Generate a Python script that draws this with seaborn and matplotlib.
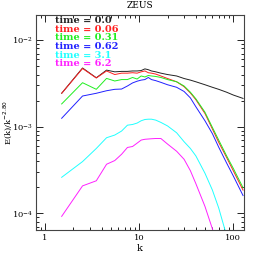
import matplotlib
matplotlib.use("Agg")
import matplotlib.pyplot as plt
from matplotlib.ticker import LogLocator, FuncFormatter, NullFormatter
import pandas as pd
import seaborn as sns

K_FULL = [1.5, 2.5, 3.5, 4.5, 5.5, 6.5, 7.5, 8.5, 9.5, 10.5, 11.5, 12.5, 13.5,
          15, 17, 20, 25, 30, 35, 40, 50, 60, 70, 85, 100, 127]
K_CYAN = K_FULL[:24]
K_MAGENTA = K_FULL[:23]

E_T000 = [2.43e-3, 4.76e-3, 3.67e-3, 4.5e-3, 4.3e-3, 4.35e-3, 4.35e-3, 4.4e-3, 4.4e-3,
          4.45e-3, 4.65e-3, 4.55e-3, 4.4e-3, 4.3e-3, 4.15e-3, 4.0e-3, 3.85e-3, 3.6e-3,
          3.45e-3, 3.3e-3, 3.05e-3, 2.85e-3, 2.7e-3, 2.5e-3, 2.32e-3, 2.12e-3]
E_T006 = [2.43e-3, 4.7e-3, 3.65e-3, 4.4e-3, 4.0e-3, 4.15e-3, 4.15e-3, 4.2e-3, 4.15e-3,
          4.3e-3, 4.4e-3, 4.2e-3, 4.15e-3, 4.05e-3, 3.85e-3, 3.6e-3, 3.3e-3, 2.9e-3,
          2.45e-3, 2.05e-3, 1.42e-3, 9.4e-4, 6.6e-4, 4.4e-4, 3.1e-4, 1.85e-4]
E_T031 = [1.83e-3, 3.22e-3, 2.7e-3, 3.61e-3, 3.37e-3, 3.5e-3, 3.5e-3, 3.7e-3, 3.55e-3,
          3.85e-3, 3.75e-3, 3.9e-3, 3.85e-3, 3.8e-3, 3.7e-3, 3.5e-3, 3.3e-3, 2.95e-3,
          2.5e-3, 2.1e-3, 1.47e-3, 9.8e-4, 7.0e-4, 4.6e-4, 3.3e-4, 1.97e-4]
E_T062 = [1.25e-3, 2.26e-3, 2.43e-3, 2.6e-3, 2.7e-3, 2.72e-3, 2.95e-3, 3.2e-3, 3.35e-3,
          3.45e-3, 3.5e-3, 3.7e-3, 3.5e-3, 3.4e-3, 3.25e-3, 3.05e-3, 2.85e-3, 2.55e-3,
          2.15e-3, 1.7e-3, 1.17e-3, 8.3e-4, 5.8e-4, 3.8e-4, 2.7e-4, 1.6e-4]
E_T310 = [2.6e-4, 3.95e-4, 5.6e-4, 7.45e-4, 8.0e-4, 8.9e-4, 1.04e-3, 1.06e-3, 1.1e-3,
          1.17e-3, 1.21e-3, 1.22e-3, 1.22e-3, 1.19e-3, 1.12e-3, 1.02e-3, 8.5e-4, 6.7e-4,
          5.6e-4, 4.6e-4, 2.9e-4, 1.85e-4, 1.15e-4, 5.5e-5]
E_T620 = [9.2e-5, 2.07e-4, 2.37e-4, 3.68e-4, 4.06e-4, 4.8e-4, 5.75e-4, 5.9e-4, 6.45e-4,
          7.0e-4, 7.15e-4, 7.2e-4, 7.25e-4, 7.3e-4, 7.3e-4, 6.3e-4, 5.2e-4, 4.2e-4,
          3.1e-4, 2.2e-4, 1.2e-4, 6.6e-5, 3.5e-5]

TIMES = ["0.0", "0.06", "0.31", "0.62", "3.1", "6.2"]
COLORS = ["#222222", "#ff2020", "#20ee20", "#2020ff", "#20ffff", "#ff20ff"]

series = [(K_FULL, E_T000), (K_FULL, E_T006), (K_FULL, E_T031),
          (K_FULL, E_T062), (K_CYAN, E_T310), (K_MAGENTA, E_T620)]
frames = []
for t, (ks, es) in zip(TIMES, series):
    frames.append(pd.DataFrame({"k": ks, "E": es, "time": f"time = {t}"}))
df = pd.concat(frames, ignore_index=True)

plt.rcParams["font.family"] = ["DejaVu Serif"]
fig = plt.figure(figsize=(2.58, 2.58), dpi=100)
ax = fig.add_axes([0.1395, 0.1085, 0.8062, 0.8334])

palette = {f"time = {t}": c for t, c in zip(TIMES, COLORS)}
sns.lineplot(data=df, x="k", y="E", hue="time", palette=palette, ax=ax,
             linewidth=0.7, sort=True, legend=False)

ax.set_xscale("log")
ax.set_yscale("log")
ax.set_xlim(0.8, 130)
ax.set_ylim(6.4e-5, 1.95e-2)

ax.xaxis.set_major_formatter(FuncFormatter(lambda v, p: f"{v:g}"))
ax.xaxis.set_minor_formatter(NullFormatter())
ax.yaxis.set_minor_locator(LogLocator(subs=range(2, 10)))
ax.yaxis.set_minor_formatter(NullFormatter())
ax.tick_params(which="both", direction="in", top=True, right=True, labelsize=6,
               width=0.6, pad=3)
ax.tick_params(axis="y", pad=2)
ax.tick_params(which="major", length=5)
ax.tick_params(which="minor", length=2.5)
for s in ax.spines.values():
    s.set_linewidth(0.8)
    s.set_color("#444444")

ax.set_xlabel("k", fontsize=7, labelpad=1)
ax.set_ylabel(r"E(k)/k$^{-2.80}$", fontsize=6)
ax.yaxis.set_label_coords(-0.108, 0.5)
ax.set_title("ZEUS", fontsize=6.5, pad=5)

# colored "legend" rows, as in the original
for i, (t, c) in enumerate(zip(TIMES, COLORS)):
    ax.text(0.09, 0.975 - i * 0.0405, f"time = {t}", color=c, fontsize=7,
            fontweight="bold", transform=ax.transAxes, va="center", ha="left")

fig.savefig("out.png", dpi=100)
